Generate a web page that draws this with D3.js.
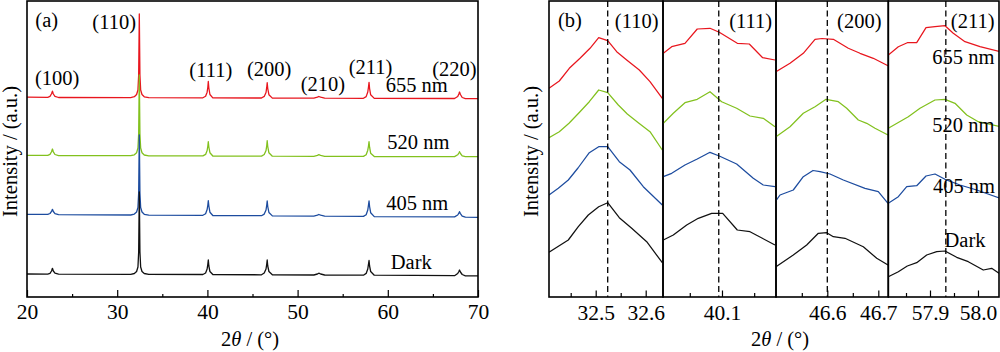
<!DOCTYPE html>
<html><head><meta charset="utf-8">
<script src="https://cdn.jsdelivr.net/npm/d3@7"></script>
<style>html,body{margin:0;padding:0;background:#fff;} svg{display:block;} svg text{font-family:"Liberation Serif","Times New Roman",serif;}</style>
</head><body><svg id="c" width="1000" height="352" font-family="Liberation Serif, Times New Roman, serif"></svg>
<script>
// ---------------- DATA ----------------
// Panel (a): full XRD patterns, [2theta, intensity (a.u., stacked)]
const seriesNames = ["655 nm", "520 nm", "405 nm", "Dark"];
const peakLabelsA = ["(100)", "(110)", "(111)", "(200)", "(210)", "(211)", "(220)"];
const xTicksA = [20, 30, 40, 50, 60, 70];
const xMinorA = [25, 35, 45, 55, 65];

const a655 = [
[20,199.8],[22.3,199.7],[22.55,200.6],[22.72,203.3],[22.82,205.8],[22.92,203],[23.1,200.6],[23.5,199.5],
[31.5,199.4],[31.9,200.3],[32.15,202.5],[32.3,207],[32.38,222],[32.45,283],[32.52,222],[32.6,207],[32.75,202.5],[33.0,200.2],[33.5,199.3],
[39.5,199.2],[39.8,200.7],[39.97,204.8],[40.05,210],[40.1,215.5],[40.16,209],[40.28,202.5],[40.6,199.1],
[46.0,199],[46.3,200.6],[46.5,204.5],[46.58,209.8],[46.63,214.3],[46.69,208.5],[46.82,202.3],[47.2,198.9],
[51.8,198.8],[52.2,199.8],[52.35,200.5],[52.55,199.8],[53,198.8],
[57.3,198.7],[57.6,200.4],[57.78,205],[57.86,210],[57.92,214.7],[57.98,208.5],[58.1,202.2],[58.5,198.6],
[67.4,198.5],[67.75,200.5],[67.88,203],[67.95,205],[68.05,202.5],[68.25,199.5],[68.6,198.4],[70,198.4]];
const a520 = [
[20,141.7],[22.3,141.6],[22.55,142.6],[22.72,145.3],[22.82,148],[22.92,145.2],[23.1,142.5],[23.5,141.4],
[31.5,141.3],[31.9,142.2],[32.15,144.3],[32.3,149],[32.38,163],[32.45,222],[32.52,163],[32.6,149],[32.75,144.3],[33.0,142],[33.5,141.2],
[39.5,141.1],[39.8,142.6],[39.97,146.5],[40.05,151],[40.1,155.3],[40.16,150],[40.28,144.3],[40.6,141],
[46.0,140.9],[46.3,142.5],[46.5,146.5],[46.58,151.5],[46.63,156.3],[46.69,150.5],[46.82,144.2],[47.2,140.8],
[51.8,140.7],[52.2,141.6],[52.35,142.3],[52.55,141.6],[53,140.7],
[57.3,140.6],[57.6,142.3],[57.78,146.8],[57.86,151],[57.92,155.3],[57.98,149.8],[58.1,143.8],[58.5,140.5],
[67.4,140.4],[67.75,142.2],[67.88,144],[67.95,145.3],[68.05,143.5],[68.25,141.2],[68.6,140.3],[70,140.3]];
const a405 = [
[20,82.7],[22.3,82.6],[22.55,83.5],[22.72,85.6],[22.82,87.7],[22.92,85.5],[23.1,83.4],[23.5,82.4],
[31.5,82],[31.9,82.9],[32.15,85],[32.3,89.5],[32.38,104],[32.45,162],[32.52,104],[32.6,89.5],[32.75,85],[33.0,82.7],[33.5,81.9],
[39.5,81.7],[39.8,83.2],[39.97,87.5],[40.05,92],[40.1,96.3],[40.16,91],[40.28,84.8],[40.6,81.5],
[46.0,81.3],[46.3,82.9],[46.5,87],[46.58,92],[46.63,96],[46.69,90.5],[46.82,84.5],[47.2,81.1],
[51.8,80.9],[52.2,81.8],[52.35,82.5],[52.55,81.8],[53,80.8],
[57.3,80.6],[57.6,82.3],[57.78,87],[57.86,92],[57.92,96],[57.98,90.5],[58.1,84.3],[58.5,80.4],
[67.4,80.1],[67.75,82],[67.88,83.8],[67.95,85.3],[68.05,83.4],[68.25,80.9],[68.6,79.8],[70,79.7]];
const aDark = [
[20,23],[22.3,22.9],[22.55,23.7],[22.72,26],[22.82,28.7],[22.92,26],[23.1,23.8],[23.5,22.8],
[31.5,22.7],[31.9,23.5],[32.15,25.5],[32.3,30],[32.38,45],[32.45,105],[32.52,45],[32.6,30],[32.75,25.5],[33.0,23.5],[33.5,22.6],
[39.5,22.5],[39.8,24],[39.97,28],[40.05,33],[40.1,37],[40.16,31],[40.28,25.5],[40.6,22.5],
[46.0,22.2],[46.3,24],[46.5,28],[46.58,33],[46.63,37],[46.69,31],[46.82,25.5],[47.2,22.2],
[51.8,22],[52.2,23],[52.35,23.8],[52.55,23],[53,22],
[57.3,21.8],[57.6,23.6],[57.78,28],[57.86,33],[57.92,36.5],[57.98,31],[58.1,25.5],[58.5,21.8],
[67.4,21.3],[67.75,23.5],[67.88,25.5],[67.95,27],[68.05,25],[68.25,22.5],[68.6,21.2],[70,21.2]];

// Panel (b): zoomed peaks
const peakLabelsB = ["(110)", "(111)", "(200)", "(211)"];
const bWindows = [[32.4066, 32.6346], [40.0084, 40.1839], [46.4994, 46.7196], [57.8131, 58.0438]];
const bPeakRef = [32.524, 40.095, 46.6, 57.933];
const bMajor = [[32.5, 32.6], [40.1], [46.6, 46.7], [57.9, 58.0]];
const bMinor = [[32.45, 32.55], [40.05, 40.15], [46.55, 46.65], [57.85, 57.95]];

const b110_655 = [[32.4066,208.7],[32.4272,216],[32.4472,228.7],[32.4686,238.7],[32.4886,248.7],[32.506,259.3],[32.524,256.3],[32.542,245.3],[32.562,237],[32.5872,227],[32.6086,215.3],[32.6332,198.7]];
const b110_520 = [[32.4066,159.3],[32.4272,165.3],[32.4466,173.7],[32.4686,185.3],[32.4872,195.3],[32.506,207],[32.524,204.3],[32.5452,192],[32.5632,183],[32.5852,174.3],[32.6086,165.3],[32.6332,147]];
const b110_405 = [[32.4066,102],[32.4252,108.7],[32.4452,117],[32.4646,129],[32.4872,144.3],[32.506,150.3],[32.524,150.3],[32.5472,135.3],[32.5686,127],[32.5952,110.3],[32.6332,92]];
const b110_dark = [[32.4066,44.7],[32.4452,57],[32.4652,70.3],[32.4852,82],[32.506,90.3],[32.524,94.3],[32.5472,79.3],[32.572,68.7],[32.602,55.3],[32.6332,34.3]];

const b111_655 = [[40.0089,243.7],[40.0219,250.3],[40.0425,253.7],[40.0616,268],[40.0814,268.7],[40.0958,264.7],[40.1238,253.7],[40.1424,253],[40.1632,239.3],[40.1823,237]];
const b111_520 = [[40.0089,173.7],[40.0244,183.7],[40.0425,194.3],[40.0616,197.7],[40.0814,205.3],[40.0995,195.3],[40.1228,188.7],[40.1435,181],[40.1641,178.7],[40.1823,170.3]];
const b111_405 = [[40.0089,120.3],[40.0219,123.7],[40.0425,132],[40.0616,138],[40.0814,144.7],[40.0958,141],[40.1228,133],[40.1373,125],[40.1486,118.7],[40.1641,112],[40.1823,110.3]];
const b111_dark = [[40.0089,57],[40.0244,62],[40.0452,72],[40.0632,78.7],[40.084,83.7],[40.1011,83.7],[40.1238,67],[40.1435,65.3],[40.1823,52]];

const b200_655 = [[46.4994,225.3],[46.5269,233.7],[46.5529,243.7],[46.5759,257.7],[46.5896,258.5],[46.6118,257.7],[46.6412,248.7],[46.6641,243.7],[46.6902,238.7],[46.719,231.3]];
const b200_520 = [[46.4994,160.3],[46.5269,170.3],[46.5529,183.7],[46.5759,190.3],[46.5975,197.7],[46.6216,195.3],[46.638,188.7],[46.6608,177],[46.6773,173.7],[46.6935,168.7],[46.719,162]];
const b200_405 = [[46.4994,96.3],[46.5073,102],[46.5333,107],[46.5529,120.3],[46.572,126.5],[46.5857,125.3],[46.6053,123],[46.6314,117],[46.6739,108.7],[46.7,105.3],[46.719,93.7]];
const b200_dark = [[46.4994,30.3],[46.5333,42],[46.5596,52],[46.5824,63.7],[46.5988,64.3],[46.6118,60.3],[46.6347,58.7],[46.6706,50.3],[46.6969,38.7],[46.719,32]];

const b211_655 = [[57.8131,242],[57.834,250.3],[57.8527,254.3],[57.8723,254.3],[57.8917,269.3],[57.9104,270.3],[57.9313,271.3],[57.9485,263.7],[57.9729,255.3],[58.0042,250.3],[58.0458,245.3]];
const b211_520 = [[57.8131,168.7],[57.8548,180.3],[57.8792,188.7],[57.9104,197],[57.9313,197.7],[57.9521,193.7],[57.9765,182],[58.0006,175.3],[58.0458,170.3]];
const b211_405 = [[57.8131,93.7],[57.834,100.3],[57.8515,110.3],[57.8723,111.3],[57.8917,121],[57.9104,123],[57.9313,117.7],[57.9625,112],[57.9973,107],[58.0458,98.7]];
const b211_dark = [[57.8131,20.3],[57.834,25.3],[57.8527,31],[57.8723,34.3],[57.8931,42],[57.914,45.3],[57.9313,46],[57.9556,39.7],[57.9798,35.3],[58.011,27],[58.0285,28.7],[58.0458,23]];

// ---------------- DRAWING ----------------
const FONT = "Liberation Serif, Times New Roman, serif";
const svg = d3.select("#c");
const FS = 20.5;
const TFS = 21.5;
const colors = ["#e8161e", "#82c11e", "#1d4c9f", "#111111"];
const FRAME_W = 1.6;

function styleAxis(g) {
  g.attr("font-family", FONT).attr("font-size", TFS);
  g.select(".domain").remove();
  g.selectAll(".tick line").attr("stroke", "#000").attr("stroke-width", 1.2);
  g.selectAll(".tick text").attr("fill", "#000").attr("font-family", FONT);
}

// ---- Panel (a) ----
const A = {l: 27, r: 478, t: 1, b: 297};
const ax = d3.scaleLinear([20, 70], [A.l, A.r]);
const ay = d3.scaleLinear([0, 296], [A.b, A.t]);
const lineA = d3.line().x(d => ax(d[0])).y(d => ay(d[1]));
const seriesA = [a655, a520, a405, aDark];
seriesA.forEach((s, i) => {
  svg.append("path").attr("d", lineA(s)).attr("fill", "none")
    .attr("stroke", colors[i]).attr("stroke-width", 1.3).attr("stroke-linejoin", "round");
});
const gA = svg.append("g").attr("transform", `translate(0,${A.b})`)
  .call(d3.axisBottom(ax).tickValues(xTicksA).tickSize(-7).tickFormat(d3.format("d")));
styleAxis(gA);
gA.selectAll(".tick text").attr("dy", null).attr("y", 21.5);
const gAm = svg.append("g").attr("transform", `translate(0,${A.b})`)
  .call(d3.axisBottom(ax).tickValues(xMinorA).tickSize(-3).tickFormat(""));
styleAxis(gAm);
svg.append("rect").attr("x", A.l).attr("y", A.t).attr("width", A.r - A.l).attr("height", A.b - A.t)
  .attr("fill", "none").attr("stroke", "#000").attr("stroke-width", FRAME_W);

function txt(x, y, s) {
  return svg.append("text").attr("x", x).attr("y", y).attr("font-size", FS)
    .attr("font-family", FONT).attr("text-anchor", "middle").attr("fill", "#000").text(s);
}
// panel (a) annotations
txt(46.7, 27, "(a)");
const peakLabelPosA = [[57.2, 85], [114.2, 29.3], [210.8, 76.7], [269.2, 76], [323, 90.5], [370.5, 74], [454.5, 75.5]];
peakLabelsA.forEach((l, i) => txt(peakLabelPosA[i][0], peakLabelPosA[i][1], l));
const seriesLabelPosA = [[416.7, 91.7], [418.3, 149.3], [417.2, 210], [411.3, 269.3]];
seriesNames.forEach((l, i) => txt(seriesLabelPosA[i][0], seriesLabelPosA[i][1], l));

// axis titles
function xTitle(cx, y) {
  const t = svg.append("text").attr("x", cx).attr("y", y).attr("font-size", FS)
    .attr("font-family", FONT).attr("text-anchor", "middle");
  t.append("tspan").text("2");
  t.append("tspan").attr("font-style", "italic").text("θ");
  t.append("tspan").text(" / (°)");
}
function yTitle(x, cy) {
  svg.append("text").attr("transform", `translate(${x},${cy}) rotate(-90)`)
    .attr("font-size", FS).attr("font-family", FONT).attr("text-anchor", "middle").text("Intensity / (a.u.)");
}
xTitle(250, 345.5);
yTitle(16.5, 151.5);

// ---- Panel (b) ----
const B = {t: 1, b: 297};
const bRanges = [[549, 663], [663, 776], [776, 888.3], [888.3, 999]];
const bData = [
  [b110_655, b110_520, b110_405, b110_dark],
  [b111_655, b111_520, b111_405, b111_dark],
  [b200_655, b200_520, b200_405, b200_dark],
  [b211_655, b211_520, b211_405, b211_dark]];
const by = d3.scaleLinear([0, 296], [B.b, B.t]);
const defs = svg.append("defs");
bWindows.forEach((win, k) => {
  const [r0, r1] = bRanges[k];
  const x = d3.scaleLinear(win, [r0, r1]);
  defs.append("clipPath").attr("id", "clip" + k).append("rect")
    .attr("x", r0).attr("y", B.t).attr("width", r1 - r0).attr("height", B.b - B.t);
  const g = svg.append("g").attr("clip-path", `url(#clip${k})`);
  const ln = d3.line().x(d => x(d[0])).y(d => by(d[1]));
  bData[k].forEach((s, i) => {
    g.append("path").attr("d", ln(s)).attr("fill", "none")
      .attr("stroke", colors[i]).attr("stroke-width", 1.25).attr("stroke-linejoin", "round");
  });
  g.append("line").attr("x1", x(bPeakRef[k])).attr("x2", x(bPeakRef[k]))
    .attr("y1", B.t).attr("y2", B.b).attr("stroke", "#000").attr("stroke-width", 1.3)
    .attr("stroke-dasharray", "6,3.5");
  const ga = svg.append("g").attr("transform", `translate(0,${B.b})`)
    .call(d3.axisBottom(x).tickValues(bMajor[k]).tickSize(-6.5).tickFormat(d3.format(".1f")));
  styleAxis(ga);
  ga.selectAll(".tick text").attr("dy", null).attr("y", 23);
  const gm = svg.append("g").attr("transform", `translate(0,${B.b})`)
    .call(d3.axisBottom(x).tickValues(bMinor[k]).tickSize(-4).tickFormat(""));
  styleAxis(gm);
  svg.append("rect").attr("x", r0).attr("y", B.t).attr("width", r1 - r0).attr("height", B.b - B.t)
    .attr("fill", "none").attr("stroke", "#000").attr("stroke-width", FRAME_W);
});
txt(570, 27, "(b)");
const peakLabelPosB = [[636.7, 27.5], [750.7, 27.5], [859.3, 27.5], [972.7, 27.5]];
peakLabelsB.forEach((l, i) => txt(peakLabelPosB[i][0], peakLabelPosB[i][1], l));
const seriesLabelPosB = [[963.3, 64], [963.3, 131.7], [964, 193.3], [965, 247.3]];
seriesNames.forEach((l, i) => txt(seriesLabelPosB[i][0], seriesLabelPosB[i][1], l));
xTitle(780, 345.5);
yTitle(538.3, 151.5);
</script>
</body></html>
